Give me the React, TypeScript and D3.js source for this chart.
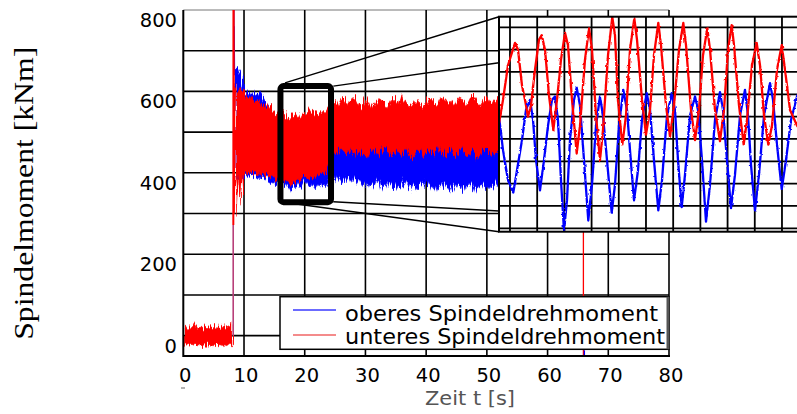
import React from 'react';
import * as d3 from 'd3';

const W = 797;
const H = 414;

// ---------- axis ticks ----------
const xTicks = [0, 10, 20, 30, 40, 50, 60, 70, 80];
const yTickLabels = [0, 200, 400, 600, 800];
const yGrid = [0, 100, 200, 300, 400, 500, 600, 700];

// ---------- main signal: idle phase (envelope), sampled every 0.4 s from 0 s ----------
const preStart = 0;
const preStep = 0.4;
const preHi = [18, 24, 16, 22, 19, 27, 17, 21, 15, 23, 20, 18, 25, 16, 22, 19, 24, 17, 21, 26, 30];
const preLo = [-24, -20, -27, -22, -25, -19, -23, -28, -21, -24, -20, -26, -22, -25, -21, -23, -27, -20, -24, -22, -25];

// ---------- main signal: rolling phase envelopes, sampled every 0.5 s from 8.5 s ----------
const bandStart = 8.5;
const bandStep = 0.5;
const redHi = [615, 600, 608, 596, 582, 588, 576, 570, 580, 566,
  562, 568, 555, 552, 545, 540, 548, 533, 526, 538,
  544, 536, 550, 547, 541, 555, 552, 543, 548, 556,
  549,
  560, 578, 571, 566, 582, 584, 569, 575, 588, 579,
  563, 570, 585, 574, 558, 566, 579, 583, 572, 561,
  576, 586, 580, 567, 590, 576, 571, 562, 574, 581,
  568, 559, 571, 585, 578, 565, 573, 587, 582, 569,
  577, 563, 572, 584, 579, 566, 575, 591, 583, 570,
  564, 578, 588, 575, 567, 582, 585, 576];
const redLo = [300, 395, 325, 402, 396, 400, 404, 398, 401, 395,
  398, 392, 388, 394, 382, 386, 378, 381, 372, 377,
  385, 380, 388, 391, 383, 392, 387, 396, 393, 398,
  401,
  420, 445, 452, 440, 458, 450, 446, 460, 438, 452,
  457, 444, 432, 449, 455, 460, 442, 448, 465, 452,
  439, 446, 458, 451, 444, 462, 455, 436, 447, 453,
  461, 440, 449, 458, 452, 445, 464, 450, 441, 455,
  459, 437, 448, 454, 462, 446, 441, 456, 451, 433,
  447, 458, 463, 449, 440, 452, 457, 448];
const blueHi = [655, 660, 640, 598, 588, 600, 584, 592, 602, 590, 576, 565, 550, 545, 538, 520, 515,
  510, 505, 515, 508, 512, 500, 518, 506, 510,
  502, 514, 508, 512, 504, 516, 506, 510, 500,
  512, 508, 505, 515, 508, 512, 500, 518, 506,
  510, 502, 514, 508, 512, 504, 516, 506, 510,
  500, 512, 508, 505, 515, 508, 512, 500, 518,
  506, 510, 502, 514, 508, 512, 504, 516, 506,
  510, 500, 512, 508, 505, 515, 508, 512, 500,
  518, 506, 510, 502, 514, 508, 512, 504, 516];
const blueLo = [390, 380, 392, 385, 395, 388, 398, 390, 395, 386, 392, 380, 372, 384, 368, 378, 362, 374, 355, 370,
  360, 376, 364, 380, 366, 378, 358, 372, 362, 380, 368, 385, 392, 378, 395, 382, 370, 388, 376, 392,
  372, 384, 366, 380, 360, 378, 365, 384, 356, 372, 362, 380, 366, 358, 376, 362, 384, 368, 355, 372,
  360, 378, 366, 382, 362, 374, 352, 370, 360, 378, 364, 350, 372, 360, 376, 356, 370, 362, 378, 354,
  368, 360, 375, 358, 372, 362, 376, 364, 370];

// ---------- start transient ----------
const transPurpleT = [8.22, 8.22];
const transPurpleV = [0, 272];
const transRedT = [8.24, 8.26, 8.3, 8.34, 8.4, 8.5];
const transRedV = [272, 830, 830, 300, 560, 600];
const transBlueT = [8.3, 8.33, 8.37, 8.42, 8.5];
const transBlueV = [820, 700, 760, 640, 655];

// ---------- cursor line ----------
const cursorT = 65.9;
const cursorRedV = [255, -50];
const cursorBlueV = [-36, -50];

// ---------- highlighted window ----------
const zoomT = [16, 24.33];
const zoomV = [328, 613];

// ---------- inset (16 s .. 24 s) ----------
const insetRedT = [16.0, 16.107, 16.24, 16.427, 16.507, 16.613, 16.693, 16.773, 16.853, 16.96,
  17.067, 17.139, 17.227, 17.333, 17.448, 17.547, 17.653, 17.76, 17.84, 17.947,
  18.072, 18.16, 18.293, 18.4, 18.48, 18.587, 18.693, 18.773, 18.907, 19.021,
  19.093, 19.173, 19.288, 19.387, 19.493, 19.608, 19.68, 19.813, 19.92, 20.027,
  20.133, 20.248, 20.32, 20.453, 20.56, 20.667, 20.8, 20.915, 20.987, 21.12,
  21.227, 21.333, 21.44, 21.555, 21.627, 21.76, 21.893, 22.0, 22.107, 22.205,
  22.267, 22.4, 22.525, 22.613, 22.747, 22.872, 22.96, 23.067, 23.181, 23.28,
  23.413, 23.539, 23.627, 23.76, 23.947, 24.027];
const insetRedV = [514, 535, 566, 586, 580, 548, 535, 520, 530, 562,
  589, 593, 580, 539, 508, 535, 571, 595, 584, 535,
  487, 512, 571, 599, 580, 521, 481, 508, 575, 609,
  593, 535, 495, 521, 580, 608, 589, 535, 504, 526,
  575, 604, 584, 530, 502, 530, 580, 604, 584, 526,
  499, 526, 575, 599, 580, 526, 498, 526, 580, 602,
  584, 530, 495, 517, 566, 586, 566, 521, 495, 512,
  562, 584, 562, 526, 512, 508];
const insetBlueT = [16.0, 16.107, 16.24, 16.381, 16.48, 16.613, 16.72, 16.827, 16.907, 16.987,
  17.093, 17.2, 17.307, 17.413, 17.493, 17.573, 17.653, 17.733, 17.813, 17.893,
  18.0, 18.072, 18.16, 18.267, 18.381, 18.48, 18.587, 18.693, 18.773, 18.88,
  19.005, 19.093, 19.2, 19.315, 19.413, 19.493, 19.6, 19.707, 19.813, 19.939,
  20.027, 20.133, 20.248, 20.347, 20.48, 20.605, 20.693, 20.773, 20.872, 20.96,
  21.093, 21.227, 21.307, 21.413, 21.52, 21.627, 21.76, 21.893, 21.973, 22.08,
  22.187, 22.293, 22.427, 22.56, 22.64, 22.72, 22.827, 22.933, 23.067, 23.227,
  23.307, 23.413, 23.539, 23.653, 23.787, 23.947, 24.027];
const insetBlueV = [520, 490, 463, 452, 472, 499, 526, 535, 517, 481,
  454, 481, 512, 535, 538, 517, 463, 418, 445, 499,
  535, 546, 530, 481, 427, 459, 512, 538, 521, 481,
  434, 459, 512, 544, 526, 490, 445, 472, 517, 541,
  526, 481, 436, 463, 521, 541, 526, 481, 439, 468,
  521, 538, 526, 481, 426, 459, 517, 542, 526, 481,
  438, 468, 521, 544, 521, 477, 436, 468, 521, 550,
  535, 495, 455, 481, 517, 538, 544];
const insetGridV = [420, 440, 460, 480, 500, 520, 540, 560, 580, 600];
const insetGridT0 = 16.293;
const insetGridStep = 0.7253;
const insetGridCount = 11;

const legendItems = [
  { label: 'oberes Spindeldrehmoment', color: '#3a3aff' },
  { label: 'unteres Spindeldrehmoment', color: '#f06464' },
];

const RED = '#ff0000';
const BLUE = '#0000ff';
const SANS = '"DejaVu Sans", Arial, sans-serif';

export default function App() {
  // main plot layout
  const L = 183.3, R = 669, T = 10, B = 356;
  const xs = d3.scaleLinear().domain([0, 80]).range([L, R]);
  const ys = d3.scaleLinear().domain([-50, 800]).range([B, T]);

  // inset layout
  const IL = 499, IR = 800, IT = 16.7, IB = 231.7;
  const ix = d3.scaleLinear().domain([16, 24]).range([IL, IL + 300]);
  const iy = d3.scaleLinear().domain([420, 600]).range([228.3, 27.3]);

  const preArea = d3.area<number>()
    .x((_, i) => xs(preStart + i * preStep))
    .y0((_, i) => ys(preLo[i]))
    .y1((d) => ys(d));
  const bandArea = (lo: number[]) => d3.area<number>()
    .x((_, i) => xs(bandStart + i * bandStep))
    .y0((_, i) => ys(lo[i]))
    .y1((d) => ys(d));
  const mainLine = (ts: number[]) => d3.line<number>().x((_, i) => xs(ts[i])).y((d) => ys(d));
  const insetLine = (ts: number[]) => d3.line<number>().x((_, i) => ix(ts[i])).y((d) => iy(d));

  const bx0 = xs(zoomT[0]), bx1 = xs(zoomT[1]);
  const by0 = ys(zoomV[1]), by1 = ys(zoomV[0]);

  const insetGridX = d3.range(insetGridCount).map((k) => ix(insetGridT0 + k * insetGridStep));

  const legX = 280, legY = 296.7, legW = 389, legH = 52.6;

  return (
    <svg width={W} height={H} viewBox={`0 0 ${W} ${H}`}
      style={{ position: 'absolute', left: 0, top: 0, background: '#fff' }}>
      <defs>
        <clipPath id="mainClip"><rect x={L} y={T} width={R - L} height={B - T} /></clipPath>
        <clipPath id="insetClip"><rect x={IL} y={IT} width={IR - IL} height={IB - IT} /></clipPath>
        <filter id="bandRough" x="-2%" y="-20%" width="104%" height="140%">
          <feTurbulence type="fractalNoise" baseFrequency="0.9 0.03" numOctaves={2} seed={4} result="n" />
          <feDisplacementMap in="SourceGraphic" in2="n" scale={12} xChannelSelector="B" yChannelSelector="R" />
        </filter>
        <filter id="lineRough" x="-2%" y="-5%" width="104%" height="110%">
          <feTurbulence type="fractalNoise" baseFrequency="0.28" numOctaves={1} seed={7} result="n" />
          <feDisplacementMap in="SourceGraphic" in2="n" scale={2.8} xChannelSelector="R" yChannelSelector="G" />
        </filter>
      </defs>
      <rect x={0} y={0} width={W} height={H} fill="#fff" />

      {/* main grid */}
      <line x1={L} x2={R} y1={T} y2={T} stroke="#777" strokeWidth={1} />
      {xTicks.slice(1).map((t) => (
        <line key={'vg' + t} x1={xs(t)} x2={xs(t)} y1={T} y2={B} stroke="#000" strokeWidth={1.6} />
      ))}
      {yGrid.map((v) => (
        <line key={'hg' + v} x1={L} x2={R} y1={ys(v)} y2={ys(v)} stroke="#000" strokeWidth={1.6} />
      ))}

      {/* data */}
      <g clipPath="url(#mainClip)">
        <g filter="url(#bandRough)">
          <path d={preArea(preHi) || ''} fill={RED} stroke={RED} strokeWidth={0.6} />
          <path d={bandArea(blueLo)(blueHi) || ''} fill={BLUE} stroke={BLUE} strokeWidth={0.6} />
          <path d={bandArea(redLo)(redHi) || ''} fill={RED} stroke={RED} strokeWidth={0.6} />
        </g>
        <path d={mainLine(transBlueT)(transBlueV) || ''} fill="none" stroke={BLUE} strokeWidth={1.5} />
        <path d={mainLine(transRedT)(transRedV) || ''} fill="none" stroke={RED} strokeWidth={2} />
        <path d={mainLine(transPurpleT)(transPurpleV) || ''} fill="none" stroke="#b8407a" strokeWidth={1.6} />
        <line x1={xs(cursorT)} x2={xs(cursorT)} y1={ys(cursorRedV[0])} y2={ys(cursorRedV[1])} stroke={RED} strokeWidth={1.3} />
        <line x1={xs(cursorT) + 1} x2={xs(cursorT) + 1} y1={ys(cursorBlueV[0])} y2={ys(cursorBlueV[1])} stroke={BLUE} strokeWidth={1.3} />
      </g>

      {/* axes */}
      <line x1={L} x2={L} y1={T} y2={B + 1} stroke="#000" strokeWidth={2} />
      <line x1={L} x2={R + 1} y1={B} y2={B} stroke="#000" strokeWidth={2} />

      {/* highlight window */}
      <rect x={bx0} y={by0} width={bx1 - bx0} height={by1 - by0} rx={3} fill="none" stroke="#000" strokeWidth={6} />

      {/* zoom connectors */}
      <line x1={xs(16.75)} y1={ys(621)} x2={IL} y2={IT} stroke="#000" strokeWidth={1.5} />
      <line x1={xs(24.71)} y1={ys(613)} x2={IL} y2={62.7} stroke="#000" strokeWidth={1.5} />
      <line x1={xs(24.71)} y1={ys(329)} x2={IL} y2={211} stroke="#000" strokeWidth={1.5} />
      <line x1={xs(18.68)} y1={ys(323.5)} x2={IL} y2={IB} stroke="#000" strokeWidth={1.5} />

      {/* inset */}
      <rect x={IL} y={IT} width={IR - IL} height={IB - IT} fill="#fff" />
      <g clipPath="url(#insetClip)">
        {insetGridX.map((x, k) => (
          <line key={'ivg' + k} x1={x} x2={x} y1={IT} y2={IB} stroke="#000" strokeWidth={1.8} />
        ))}
        {insetGridV.map((v) => (
          <line key={'ihg' + v} x1={IL} x2={IR} y1={iy(v)} y2={iy(v)} stroke="#000" strokeWidth={1.8} />
        ))}
        <g filter="url(#lineRough)">
          <path d={insetLine(insetBlueT)(insetBlueV) || ''} fill="none" stroke={BLUE} strokeWidth={2.3} strokeLinejoin="round" />
          <path d={insetLine(insetRedT)(insetRedV) || ''} fill="none" stroke={RED} strokeWidth={2.3} strokeLinejoin="round" />
        </g>
      </g>
      <rect x={IL} y={IT} width={IR - IL} height={IB - IT} fill="none" stroke="#000" strokeWidth={2} />

      {/* legend */}
      <rect x={legX} y={legY} width={legW} height={legH} fill="#fff" stroke="#000" strokeWidth={1.5} />
      <line x1={legX + legW - 1} x2={legX + legW - 1} y1={legY} y2={legY + legH} stroke="#555" strokeWidth={3} />
      {legendItems.map((it, i) => (
        <g key={it.label}>
          <line x1={293} x2={336} y1={310 + i * 25} y2={310 + i * 25} stroke={it.color} strokeWidth={1.5} />
          <text x={345} y={320.7 + i * 23.3} fontFamily={SANS} fontSize={21} fill="#000"
            textLength={i === 0 ? 313 : 320} lengthAdjust="spacingAndGlyphs">{it.label}</text>
        </g>
      ))}

      {/* tick labels */}
      {yTickLabels.map((v) => (
        <text key={'yl' + v} x={177} y={ys(v) + 17} textAnchor="end" fontFamily={SANS} fontSize={19.5} fill="#000">{v}</text>
      ))}
      {xTicks.map((t) => (
        <text key={'xl' + t} x={xs(t) + 2} y={381.7} textAnchor="middle" fontFamily={SANS} fontSize={19.5} fill="#000">{t}</text>
      ))}
      <line x1={181} x2={185} y1={388} y2={388} stroke="#666" strokeWidth={1} />

      {/* axis titles */}
      <text x={470} y={405} textAnchor="middle" fontFamily={SANS} fontSize={20} fill="#555"
        textLength={90} lengthAdjust="spacingAndGlyphs">Zeit t [s]</text>
      <text transform="translate(33,193.3) rotate(-90)" textAnchor="middle"
        fontFamily='"Liberation Serif", "Times New Roman", serif' fontSize={27} fill="#000"
        textLength={293} lengthAdjust="spacingAndGlyphs">Spindelmoment [kNm]</text>
    </svg>
  );
}
